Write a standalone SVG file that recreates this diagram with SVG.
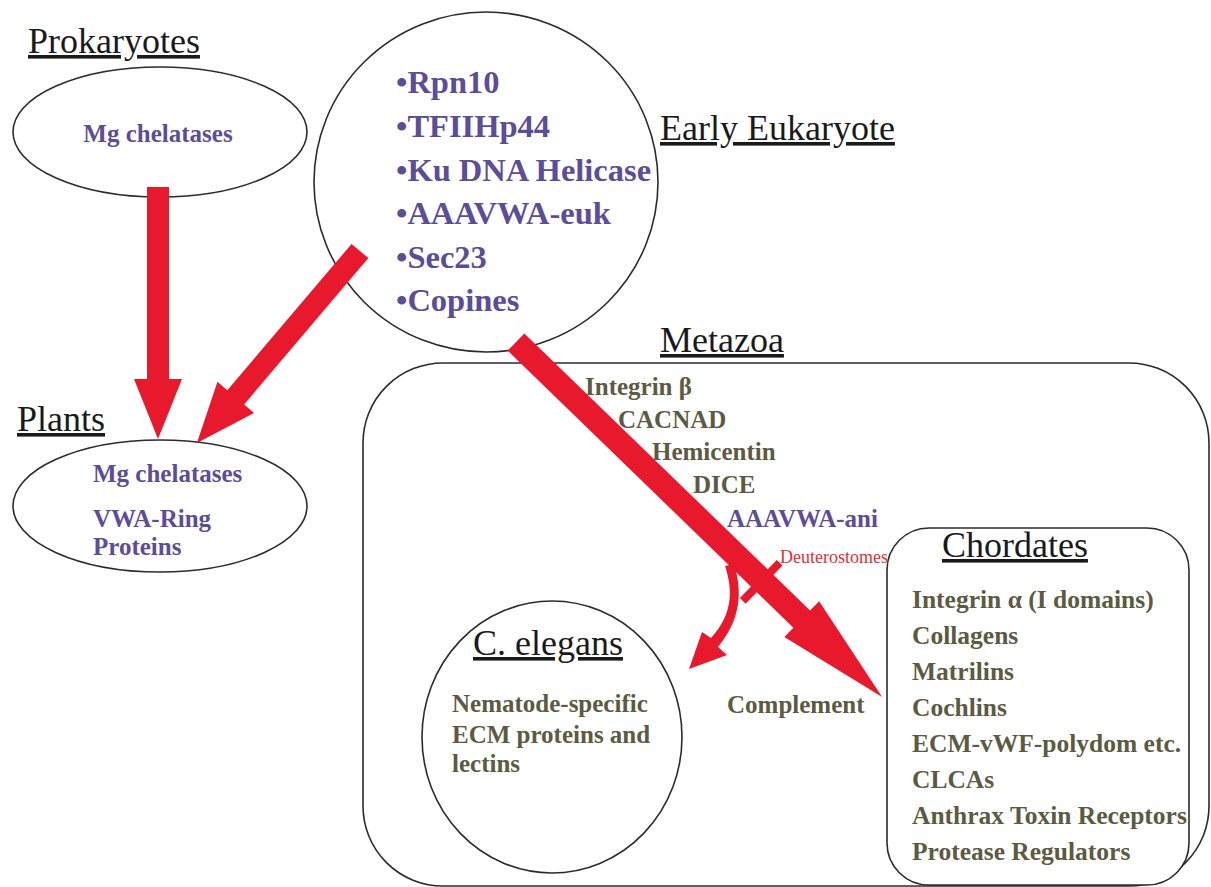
<svg xmlns="http://www.w3.org/2000/svg" width="1211" height="887" viewBox="0 0 1211 887">
<style>
  .bg { fill: #ffffff; }
  .outline { fill: none; stroke: #2b2b2b; stroke-width: 1.6; }
  .box { fill: #ffffff; stroke: #2b2b2b; stroke-width: 1.6; }
  .title { font-family: "Liberation Serif", "Times New Roman", serif; font-size: 36px; fill: #1a1a1a; text-decoration: underline; }
  .purple { font-family: "Liberation Serif", "Times New Roman", serif; font-weight: bold; font-size: 25px; fill: #5b4d98; }
  .euk { font-family: "Liberation Serif", "Times New Roman", serif; font-weight: bold; font-size: 32.5px; fill: #5b4d98; }
  .olive { font-family: "Liberation Serif", "Times New Roman", serif; font-weight: bold; font-size: 25px; fill: #5c5b42; }
  .chord { font-size: 25.5px; }
  .deut { font-family: "Liberation Serif", "Times New Roman", serif; font-size: 18px; fill: #e0303a; }
  .arrow { fill: #e8192c; stroke: none; }
</style>
<defs>
  <polygon id="arrowShort" points="0,-11 192,-11 192,-24 252,0 192,24 192,11 0,11"/>
</defs>
<rect class="bg" x="0" y="0" width="1211" height="887"/>

<g id="metazoa">
  <rect class="outline" x="363" y="363" width="846" height="523" rx="80"/>
  <text class="title" x="660" y="352">Metazoa</text>
</g>

<g id="prokaryotes">
  <ellipse class="outline" cx="160" cy="132" rx="147" ry="65"/>
  <text class="title" x="28" y="53">Prokaryotes</text>
  <text class="purple" x="158" y="142" text-anchor="middle">Mg chelatases</text>
</g>

<g id="plants">
  <ellipse class="outline" cx="160" cy="506" rx="147" ry="66"/>
  <text class="title" x="17" y="431">Plants</text>
  <text class="purple" x="93" y="482">Mg chelatases</text>
  <text class="purple" x="93" y="527">VWA-Ring</text>
  <text class="purple" x="93" y="555">Proteins</text>
</g>

<g id="early-eukaryote">
  <ellipse class="outline" cx="486" cy="182" rx="172" ry="170"/>
  <text class="title" x="660" y="140">Early Eukaryote</text>
  <text class="euk" x="396" y="93">•Rpn10</text>
  <text class="euk" x="396" y="137">•TFIIHp44</text>
  <text class="euk" x="396" y="181">•Ku DNA Helicase</text>
  <text class="euk" x="396" y="224">•AAAVWA-euk</text>
  <text class="euk" x="396" y="268">•Sec23</text>
  <text class="euk" x="396" y="311">•Copines</text>
</g>

<g id="chordates">
  <rect class="box" x="887" y="528" width="302" height="357" rx="42"/>
  <text class="title" x="942" y="557">Chordates</text>
  <text class="olive chord" x="912" y="608">Integrin α (I domains)</text>
  <text class="olive chord" x="912" y="644">Collagens</text>
  <text class="olive chord" x="912" y="680">Matrilins</text>
  <text class="olive chord" x="912" y="716">Cochlins</text>
  <text class="olive chord" x="912" y="752">ECM-vWF-polydom etc.</text>
  <text class="olive chord" x="912" y="788">CLCAs</text>
  <text class="olive chord" x="912" y="824">Anthrax Toxin Receptors</text>
  <text class="olive chord" x="912" y="860">Protease Regulators</text>
</g>

<g id="c-elegans">
  <ellipse class="outline" cx="552" cy="737" rx="130" ry="136"/>
  <text class="title" x="473" y="655">C. elegans</text>
  <text class="olive" x="452" y="712">Nematode-specific</text>
  <text class="olive" x="452" y="743">ECM proteins and</text>
  <text class="olive" x="452" y="772">lectins</text>
</g>

<g id="connectors">
  <use href="#arrowShort" class="arrow" transform="translate(158,187) rotate(90)"/>
  <use href="#arrowShort" class="arrow" transform="translate(360,251) rotate(130.33)"/>
  <g transform="translate(516,342) rotate(44.12)">
    <polygon class="arrow" points="0,-12 398,-12 398,-25 510,0 398,25 398,12 0,12"/>
    <rect class="arrow" x="339" y="-25" width="8" height="53"/>
  </g>
  <path class="arrow" d="M 725,566 C 733,590 733,614 711,638 L 702,632 L 689,669 L 727,655 L 718,647 C 742,618 742,590 734,564 Z"/>
</g>

<g id="metazoa-genes">
  <text class="olive" x="585" y="395">Integrin β</text>
  <text class="olive" x="618" y="428">CACNAD</text>
  <text class="olive" x="652" y="460">Hemicentin</text>
  <text class="olive" x="693" y="493">DICE</text>
  <text class="purple" x="727" y="527">AAAVWA-ani</text>
  <text class="deut" x="780" y="563">Deuterostomes</text>
  <text class="olive" x="727" y="713">Complement</text>
</g>
</svg>
